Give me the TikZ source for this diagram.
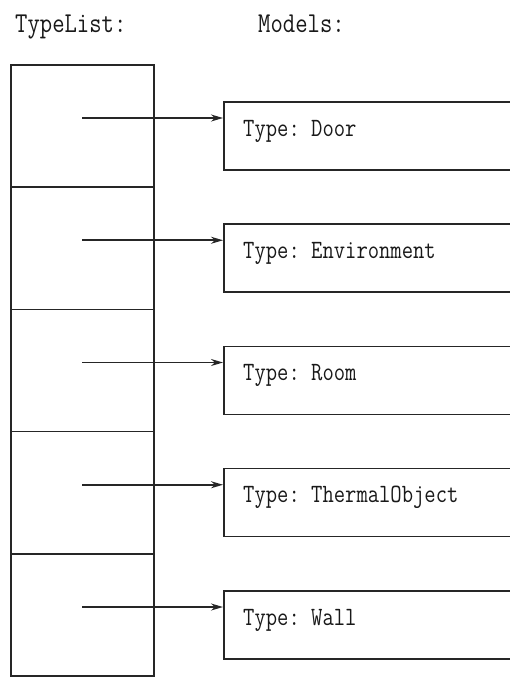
\documentclass[tikz,border=0pt]{standalone}
\usepackage{graphicx}
\usetikzlibrary{arrows.meta}
\begin{document}
\frenchspacing
\begin{tikzpicture}[x=1pt,y=-1pt,
  ln/.style={line width=1.6pt, draw=black!85},
  cell/.style={ln, rectangle, minimum width=143pt, minimum height=122.2pt, inner sep=0pt},
  model/.style={ln, rectangle, minimum width=300pt, minimum height=68pt, inner sep=0pt, anchor=north west},
  lbl/.style={anchor=base west, inner sep=0pt, text=black!90, font=\ttfamily\fontsize{22}{22}\selectfont},
  hdr/.style={anchor=base west, inner sep=0pt, text=black!90, font=\ttfamily\fontsize{24}{24}\selectfont},
  ptr/.style={ln, -{Stealth[length=12pt,width=7pt]}}]
\useasboundingbox (0,0) rectangle (510,678);
\clip (0,0) rectangle (510,678);

\node[hdr] (hl) at (15,32) {\scalebox{1}[1.2]{TypeList:}};
\node[hdr] (hm) at (258,32) {\scalebox{1}[1.2]{Models:}};

\foreach \i/\t in {0/Door,1/Environment,2/Room,3/ThermalObject,4/Wall}{
  \node[cell] (c\i) at (82.5, {65+122.2*\i+61.1}) {};
  \node[model] (m\i) at (223, {101+122.25*\i}) {};
  \node[lbl] (t\i) at (243, {136+122.25*\i}) {\scalebox{1}[1.2]{Type: \t}};
  \coordinate (a\i) at (82, {118+122.25*\i});
  \draw[ptr] (a\i) -- (m\i.west |- a\i);
}
\end{tikzpicture}
\end{document}
